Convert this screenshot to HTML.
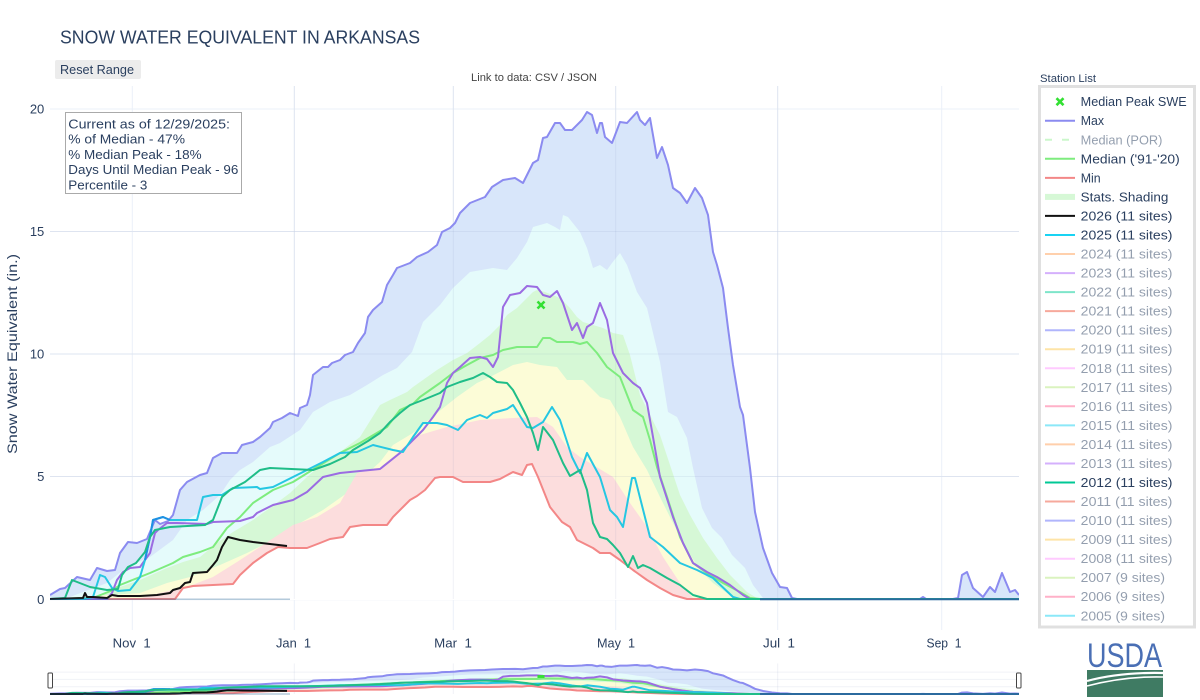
<!DOCTYPE html>
<html><head><meta charset="utf-8">
<style>
html,body{margin:0;padding:0;background:#fff;}
svg{display:block;}
text{font-family:"Liberation Sans",Arial,sans-serif;}
</style></head>
<body>
<svg width="1200" height="700" viewBox="0 0 1200 700" xmlns="http://www.w3.org/2000/svg">
<defs>
<clipPath id="pc"><rect x="50" y="86" width="969" height="544"/></clipPath>
<clipPath id="sc"><rect x="50" y="655" width="969" height="45"/></clipPath>
</defs>
<rect x="0" y="0" width="1200" height="700" fill="#fff"/>

<!-- title & buttons -->
<text x="60" y="43.3" font-size="18.5" fill="#2a3f5f" textLength="360" lengthAdjust="spacingAndGlyphs">SNOW WATER EQUIVALENT IN ARKANSAS</text>
<rect x="55" y="60" width="86" height="19" rx="2" fill="#ececec"/>
<text x="60" y="74" font-size="13" fill="#2a3f5f" textLength="74" lengthAdjust="spacingAndGlyphs">Reset Range</text>
<text x="534" y="81" font-size="11" fill="#444" text-anchor="middle" textLength="126" lengthAdjust="spacingAndGlyphs">Link to data: CSV / JSON</text>

<!-- gridlines under -->
<g stroke="#ebf0f8" stroke-width="1">
<line x1="50" y1="109" x2="1019" y2="109"/>
<line x1="50" y1="231.5" x2="1019" y2="231.5"/>
<line x1="50" y1="354" x2="1019" y2="354"/>
<line x1="50" y1="476.5" x2="1019" y2="476.5"/>
<line x1="132.3" y1="86" x2="132.3" y2="630"/>
<line x1="294.3" y1="86" x2="294.3" y2="630"/>
<line x1="453.3" y1="86" x2="453.3" y2="630"/>
<line x1="615.7" y1="86" x2="615.7" y2="630"/>
<line x1="777.7" y1="86" x2="777.7" y2="630"/>
<line x1="941.7" y1="86" x2="941.7" y2="630"/>
</g>
<line x1="50" y1="599.3" x2="1019" y2="599.3" stroke="#ebf0f8" stroke-width="2"/>

<g clip-path="url(#pc)">
<g id="data">
<!-- fills -->
<polygon fill="#d8e6fa" points="50,595 60,589 65,588 77,577 90,580 97,568 107,571 115,570 120,553 128,542 137,543 147,539 155,520 160,524 168,521 173,515 180,490 187,482 200,475 207,473 213,458 222,453 237,453 242,445 253,442 260,437 270,428 273,422 282,418 290,413 298,416 300,408 307,405 310,395 313,375 323,367 328,367 332,363 340,360 345,355 353,352 358,343 365,333 368,317 373,310 382,302 387,285 393,275 397,268 410,263 417,257 428,252 437,245 442,232 450,228 455,223 460,213 470,203 485,197 492,187 503,180 515,178 523,183 533,163 538,160 543,138 547,137 555,123 560,123 565,130 572,130 582,120 587,112 592,115 597,133 600,123 602,123 605,137 612,143 617,130 620,122 627,123 637,112 640,120 645,125 650,118 657,158 662,147 668,165 673,188 680,193 687,203 695,188 702,198 708,215 713,252 717,265 723,288 728,328 733,365 740,407 743,415 750,468 755,512 763,548 772,573 780,587 787,588 792,598 797,599 920,599 923,597 926,599 953,599 958,598 962,575 967,572 973,588 983,597 990,587 995,592 1002,573 1010,592 1015,590 1019,595 1019,600 50,600"/>
<polygon fill="#e5fbfb" points="50,599 70,597 107,583 127,567 150,557 173,540 187,520 203,510 220,495 230,480 240,470 253,462 270,447 280,443 300,430 313,412 330,402 350,395 367,385 383,375 397,368 412,352 423,322 440,305 453,288 470,272 493,268 507,270 517,258 527,242 533,227 547,223 555,227 560,230 563,215 568,217 580,232 587,248 593,268 600,265 607,270 612,263 620,253 627,265 637,292 647,308 660,362 668,412 677,417 687,438 693,468 702,508 712,528 722,538 732,555 745,568 753,585 763,598 770,600 50,600"/>
<polygon fill="#d6f8d6" points="50,599 90,598 120,587 140,580 167,568 183,562 200,557 217,543 233,532 253,520 270,508 290,493 307,477 323,463 340,452 360,437 380,405 390,400 407,392 413,387 437,370 453,360 467,353 480,343 490,335 500,325 507,315 517,308 533,292 537,290 545,292 560,298 570,308 577,317 583,322 593,325 603,328 613,333 623,335 630,355 640,395 660,435 670,465 680,495 690,515 703,538 717,558 730,575 747,592 760,600 50,600"/>
<polygon fill="#fcfcd7" points="50,599 140,593 167,583 190,577 220,565 247,553 273,540 300,523 323,510 347,493 360,480 380,462 393,445 413,433 437,413 457,397 477,383 490,377 513,365 527,362 540,365 557,367 567,380 583,380 600,397 610,400 620,417 633,447 647,470 660,497 673,523 687,550 700,570 713,583 727,593 737,598 745,600 50,600"/>
<polygon fill="#fcdddd" points="50,599 137,599 160,593 187,587 213,577 237,562 260,547 293,525 317,517 340,503 357,473 380,468 407,445 413,437 447,427 480,420 513,418 537,417 553,427 567,447 580,457 613,477 630,503 647,527 663,557 680,583 693,598 700,600 50,600"/>
<polygon fill="#ffffff" points="50,600 50,599 175,599 183,588 193,586 213,585 233,584 240,575 253,563 267,553 278,547 290,548 307,548 320,543 330,539 343,537 350,527 363,525 387,525 393,517 403,507 410,500 417,496 425,490 435,478 440,477 453,477 463,482 490,482 500,479 513,472 522,475 527,465 532,464 538,477 550,507 562,522 570,527 577,540 583,543 593,548 600,553 610,553 620,560 633,570 647,580 660,588 673,595 687,599 687,600"/>
<!-- grid overlay on fills -->
<g stroke="rgba(110,130,180,0.10)" stroke-width="1">
<line x1="50" y1="231.5" x2="1019" y2="231.5" vector-effect="non-scaling-stroke"/>
<line x1="50" y1="354" x2="1019" y2="354" vector-effect="non-scaling-stroke"/>
<line x1="50" y1="476.5" x2="1019" y2="476.5" vector-effect="non-scaling-stroke"/>
<line x1="294.3" y1="86" x2="294.3" y2="599" vector-effect="non-scaling-stroke"/>
<line x1="453.3" y1="86" x2="453.3" y2="599" vector-effect="non-scaling-stroke"/>
<line x1="615.7" y1="86" x2="615.7" y2="599" vector-effect="non-scaling-stroke"/>
<line x1="777.7" y1="86" x2="777.7" y2="599" vector-effect="non-scaling-stroke"/>
</g>
<!-- lines -->
<g fill="none" stroke-width="2" stroke-linejoin="round">
<polyline vector-effect="non-scaling-stroke" stroke="#8b8bf0" points="50,595 60,589 65,588 77,577 90,580 97,568 107,571 115,570 120,553 128,542 137,543 147,539 155,520 160,524 168,521 173,515 180,490 187,482 200,475 207,473 213,458 222,453 237,453 242,445 253,442 260,437 270,428 273,422 282,418 290,413 298,416 300,408 307,405 310,395 313,375 323,367 328,367 332,363 340,360 345,355 353,352 358,343 365,333 368,317 373,310 382,302 387,285 393,275 397,268 410,263 417,257 428,252 437,245 442,232 450,228 455,223 460,213 470,203 485,197 492,187 503,180 515,178 523,183 533,163 538,160 543,138 547,137 555,123 560,123 565,130 572,130 582,120 587,112 592,115 597,133 600,123 602,123 605,137 612,143 617,130 620,122 627,123 637,112 640,120 645,125 650,118 657,158 662,147 668,165 673,188 680,193 687,203 695,188 702,198 708,215 713,252 717,265 723,288 728,328 733,365 740,407 743,415 750,468 755,512 763,548 772,573 780,587 787,588 792,598 797,599 920,599 923,597 926,599 953,599 958,598 962,575 967,572 973,588 983,597 990,587 995,592 1002,573 1010,592 1015,590 1019,595"/>
<polyline vector-effect="non-scaling-stroke" stroke="#7eec7e" points="50,599 93,598 113,590 120,585 150,573 173,563 183,557 200,552 213,547 227,528 240,517 253,503 273,490 293,482 317,467 340,453 360,443 387,427 400,410 413,404 420,397 440,383 453,373 467,365 480,358 493,355 503,350 517,347 537,347 543,338 550,338 557,342 573,342 580,344 587,342 597,353 607,367 620,377 633,410 643,417 650,440 657,467 667,497 680,537 693,563 707,573 723,583 740,592 750,598 760,599 1019,599"/>
<polyline vector-effect="non-scaling-stroke" stroke="#f38787" points="50,599 175,599 183,588 193,586 213,585 233,584 240,575 253,563 267,553 278,547 290,548 307,548 320,543 330,539 343,537 350,527 363,525 387,525 393,517 403,507 410,500 417,496 425,490 435,478 440,477 453,477 463,482 490,482 500,479 513,472 522,475 527,465 532,464 538,477 550,507 562,522 570,527 577,540 583,543 593,548 600,553 610,553 620,560 633,570 647,580 660,588 673,595 687,599 1019,599"/>
<polyline vector-effect="non-scaling-stroke" stroke="#9b6ce2" points="50,599 107,599 112,593 117,580 123,572 130,568 140,567 150,553 155,533 158,530 167,523 177,523 207,524 213,522 240,521 253,517 257,513 273,505 293,500 307,492 323,477 340,473 360,471 380,469 400,453 413,440 423,430 433,417 440,407 447,383 453,373 460,367 470,358 480,357 487,359 493,367 498,357 503,307 510,295 520,293 527,286 537,287 543,295 550,297 557,291 563,303 572,330 577,323 583,338 587,327 593,323 600,303 607,320 613,353 623,373 633,383 640,388 647,403 653,437 660,477 673,517 683,543 693,563 707,572 717,577 730,585 743,595 750,599 1019,599"/>
<polyline vector-effect="non-scaling-stroke" stroke="#25c7e2" points="50,599 83,599 93,597 100,575 105,577 112,588 118,591 130,590 140,577 145,560 150,537 153,520 163,517 170,520 197,520 203,497 213,495 222,495 233,488 257,487 260,489 273,487 287,480 307,470 323,462 340,453 357,452 373,445 393,450 403,452 413,437 423,423 437,423 447,425 458,430 467,420 480,415 487,418 493,413 507,409 513,405 527,427 533,428 543,422 552,407 560,420 572,457 580,473 587,453 600,477 610,510 617,517 623,527 632,478 635,478 650,537 663,547 680,563 697,570 713,578 733,597 740,599 1019,599"/>
<polyline vector-effect="non-scaling-stroke" stroke="#1f8fe3" points="145,560 150,537 153,520 163,517 170,520"/>
<polyline vector-effect="non-scaling-stroke" stroke="#1fbd88" points="50,599 65,598 72,580 90,587 107,590 118,589 122,575 128,567 136,563 145,552 150,537 155,530 170,527 205,525 213,520 222,497 230,490 245,482 260,470 270,468 313,470 330,464 345,457 353,450 368,441 380,433 390,422 400,413 410,405 423,400 440,393 447,387 460,382 473,378 483,373 490,377 497,382 507,383 513,390 520,403 527,417 533,433 538,450 543,427 553,440 563,463 570,476 580,470 587,490 593,523 600,537 607,539 613,545 620,553 628,567 633,556 638,568 643,565 650,568 667,578 680,585 693,595 707,599 1019,599"/>
<polyline vector-effect="non-scaling-stroke" stroke="#111" points="50,599 83,598 85,593 87,597 93,597 107,598 112,595 118,596 140,596 157,595 170,593 173,590 180,588 185,583 190,582 193,573 207,572 213,565 217,560 222,547 228,537 240,540 253,542 270,544 287,546"/>
<line x1="50" y1="599.3" x2="290" y2="599.3" stroke="#2a6a9a" stroke-width="1.5" vector-effect="non-scaling-stroke" opacity="0.35"/>
<line x1="760" y1="599.3" x2="1019" y2="599.3" stroke="#2b6a9e" stroke-width="2" vector-effect="non-scaling-stroke"/>
</g>
<!-- median peak marker -->
<g stroke="#33e033" stroke-width="2.6">
<line x1="537.5" y1="301.5" x2="544.5" y2="308.5" vector-effect="non-scaling-stroke"/>
<line x1="544.5" y1="301.5" x2="537.5" y2="308.5" vector-effect="non-scaling-stroke"/>
</g>
</g>
</g>

<!-- info box -->
<rect x="65.5" y="112.5" width="176" height="81" fill="#fff" stroke="#aaa" stroke-width="1"/>
<g font-size="12.5" fill="#2a3f5f">
<text x="68.3" y="128.5" textLength="161.7" lengthAdjust="spacingAndGlyphs">Current as of 12/29/2025:</text>
<text x="68.3" y="143.7" textLength="116.7" lengthAdjust="spacingAndGlyphs">% of Median - 47%</text>
<text x="68.3" y="159" textLength="133.3" lengthAdjust="spacingAndGlyphs">% Median Peak - 18%</text>
<text x="68.3" y="174.2" textLength="170" lengthAdjust="spacingAndGlyphs">Days Until Median Peak - 96</text>
<text x="68.3" y="189.5" textLength="79" lengthAdjust="spacingAndGlyphs">Percentile - 3</text>
</g>

<!-- y axis -->
<g font-size="13" fill="#2a3f5f" text-anchor="end">
<text x="44.3" y="113.6">20</text>
<text x="44.3" y="236.1">15</text>
<text x="44.3" y="358.6">10</text>
<text x="44.3" y="481.1">5</text>
<text x="44.3" y="603.9">0</text>
</g>
<text transform="translate(17,354) rotate(-90)" text-anchor="middle" font-size="14" fill="#2a3f5f" textLength="200" lengthAdjust="spacingAndGlyphs">Snow Water Equivalent (in.)</text>

<!-- x axis -->
<g font-size="13" fill="#2a3f5f" text-anchor="middle">
<text x="131.7" y="647.5" textLength="38" lengthAdjust="spacingAndGlyphs">Nov&#160; 1</text>
<text x="293.5" y="647.5" textLength="35" lengthAdjust="spacingAndGlyphs">Jan&#160; 1</text>
<text x="453" y="647.5" textLength="37.7" lengthAdjust="spacingAndGlyphs">Mar&#160; 1</text>
<text x="616" y="647.5" textLength="38" lengthAdjust="spacingAndGlyphs">May&#160; 1</text>
<text x="779" y="647.5" textLength="32" lengthAdjust="spacingAndGlyphs">Jul&#160; 1</text>
<text x="944" y="647.5" textLength="35" lengthAdjust="spacingAndGlyphs">Sep&#160; 1</text>
</g>

<!-- range slider -->
<g clip-path="url(#sc)">
<use href="#data" transform="translate(0,694) scale(1,0.0596) translate(0,-599)"/>
</g>
<rect x="48" y="673" width="4.5" height="15" rx="1" fill="#fff" stroke="#444" stroke-width="1"/>
<rect x="1016.5" y="673" width="4.5" height="15" rx="1" fill="#fff" stroke="#444" stroke-width="1"/>

<!-- legend -->
<text x="1040" y="82" font-size="11" fill="#2a3f5f" textLength="56" lengthAdjust="spacingAndGlyphs">Station List</text>
<rect x="1039.5" y="86.5" width="155" height="540.5" fill="#fff" stroke="#e0e0e0" stroke-width="3"/>
<g stroke="#33e033" stroke-width="2.6">
<line x1="1056.5" y1="98.2" x2="1063.5" y2="105.2"/>
<line x1="1063.5" y1="98.2" x2="1056.5" y2="105.2"/>
</g>
<g stroke-width="2" fill="none">
<line x1="1045" y1="120.7" x2="1075" y2="120.7" stroke="#8b8bf0"/>
<line x1="1045" y1="139.8" x2="1075" y2="139.8" stroke="#7eec7e" stroke-dasharray="7,10" opacity="0.4"/>
<line x1="1045" y1="158.8" x2="1075" y2="158.8" stroke="#7eec7e"/>
<line x1="1045" y1="177.9" x2="1075" y2="177.9" stroke="#f38787"/>
<rect x="1045" y="193.9" width="30" height="6" fill="#d6f8d6" stroke="none"/>
<line x1="1045" y1="215.9" x2="1075" y2="215.9" stroke="#111"/>
<line x1="1045" y1="235" x2="1075" y2="235" stroke="#19d3f3"/>
<g opacity="0.5">
<line x1="1045" y1="254" x2="1075" y2="254" stroke="#FFA15A"/>
<line x1="1045" y1="273.1" x2="1075" y2="273.1" stroke="#AB63FA"/>
<line x1="1045" y1="292.1" x2="1075" y2="292.1" stroke="#00CC96"/>
<line x1="1045" y1="311.1" x2="1075" y2="311.1" stroke="#EF553B"/>
<line x1="1045" y1="330.2" x2="1075" y2="330.2" stroke="#636EFA"/>
<line x1="1045" y1="349.2" x2="1075" y2="349.2" stroke="#FECB52"/>
<line x1="1045" y1="368.3" x2="1075" y2="368.3" stroke="#FF97FF"/>
<line x1="1045" y1="387.3" x2="1075" y2="387.3" stroke="#B6E880"/>
<line x1="1045" y1="406.3" x2="1075" y2="406.3" stroke="#FF6692"/>
<line x1="1045" y1="425.4" x2="1075" y2="425.4" stroke="#19D3F3"/>
<line x1="1045" y1="444.4" x2="1075" y2="444.4" stroke="#FFA15A"/>
<line x1="1045" y1="463.5" x2="1075" y2="463.5" stroke="#AB63FA"/>
<line x1="1045" y1="501.5" x2="1075" y2="501.5" stroke="#EF553B"/>
<line x1="1045" y1="520.6" x2="1075" y2="520.6" stroke="#636EFA"/>
<line x1="1045" y1="539.6" x2="1075" y2="539.6" stroke="#FECB52"/>
<line x1="1045" y1="558.7" x2="1075" y2="558.7" stroke="#FF97FF"/>
<line x1="1045" y1="577.7" x2="1075" y2="577.7" stroke="#B6E880"/>
<line x1="1045" y1="596.7" x2="1075" y2="596.7" stroke="#FF6692"/>
<line x1="1045" y1="615.8" x2="1075" y2="615.8" stroke="#19D3F3"/>
</g>
<line x1="1045" y1="482.5" x2="1075" y2="482.5" stroke="#00c896"/>
</g>
<g font-size="12.5" fill="#2a3f5f">
<text x="1080.7" y="106.2" textLength="106" lengthAdjust="spacingAndGlyphs">Median Peak SWE</text>
<text x="1080.7" y="125.2" textLength="23.3" lengthAdjust="spacingAndGlyphs">Max</text>
<text x="1080.7" y="144.3" textLength="81.7" lengthAdjust="spacingAndGlyphs" opacity="0.5">Median (POR)</text>
<text x="1080.7" y="163.3" textLength="99" lengthAdjust="spacingAndGlyphs">Median ('91-'20)</text>
<text x="1080.7" y="182.4" textLength="20" lengthAdjust="spacingAndGlyphs">Min</text>
<text x="1080.7" y="201.4" textLength="87.7" lengthAdjust="spacingAndGlyphs">Stats. Shading</text>
<text x="1080.7" y="220.4" textLength="91.7" lengthAdjust="spacingAndGlyphs">2026 (11 sites)</text>
<text x="1080.7" y="239.5" textLength="91.7" lengthAdjust="spacingAndGlyphs">2025 (11 sites)</text>
<g opacity="0.5">
<text x="1080.7" y="258.5" textLength="91.7" lengthAdjust="spacingAndGlyphs">2024 (11 sites)</text>
<text x="1080.7" y="277.6" textLength="91.7" lengthAdjust="spacingAndGlyphs">2023 (11 sites)</text>
<text x="1080.7" y="296.6" textLength="91.7" lengthAdjust="spacingAndGlyphs">2022 (11 sites)</text>
<text x="1080.7" y="315.6" textLength="91.7" lengthAdjust="spacingAndGlyphs">2021 (11 sites)</text>
<text x="1080.7" y="334.7" textLength="91.7" lengthAdjust="spacingAndGlyphs">2020 (11 sites)</text>
<text x="1080.7" y="353.7" textLength="91.7" lengthAdjust="spacingAndGlyphs">2019 (11 sites)</text>
<text x="1080.7" y="372.8" textLength="91.7" lengthAdjust="spacingAndGlyphs">2018 (11 sites)</text>
<text x="1080.7" y="391.8" textLength="91.7" lengthAdjust="spacingAndGlyphs">2017 (11 sites)</text>
<text x="1080.7" y="410.8" textLength="91.7" lengthAdjust="spacingAndGlyphs">2016 (11 sites)</text>
<text x="1080.7" y="429.9" textLength="91.7" lengthAdjust="spacingAndGlyphs">2015 (11 sites)</text>
<text x="1080.7" y="448.9" textLength="91.7" lengthAdjust="spacingAndGlyphs">2014 (11 sites)</text>
<text x="1080.7" y="468" textLength="91.7" lengthAdjust="spacingAndGlyphs">2013 (11 sites)</text>
<text x="1080.7" y="506" textLength="91.7" lengthAdjust="spacingAndGlyphs">2011 (11 sites)</text>
<text x="1080.7" y="525.1" textLength="91.7" lengthAdjust="spacingAndGlyphs">2010 (11 sites)</text>
<text x="1080.7" y="544.1" textLength="91.7" lengthAdjust="spacingAndGlyphs">2009 (11 sites)</text>
<text x="1080.7" y="563.2" textLength="91.7" lengthAdjust="spacingAndGlyphs">2008 (11 sites)</text>
<text x="1080.7" y="582.2" textLength="84.3" lengthAdjust="spacingAndGlyphs">2007 (9 sites)</text>
<text x="1080.7" y="601.2" textLength="84.3" lengthAdjust="spacingAndGlyphs">2006 (9 sites)</text>
<text x="1080.7" y="620.3" textLength="84.3" lengthAdjust="spacingAndGlyphs">2005 (9 sites)</text>
</g>
<text x="1080.7" y="487" textLength="91.7" lengthAdjust="spacingAndGlyphs">2012 (11 sites)</text>
</g>

<!-- USDA logo -->
<text x="1087" y="667" font-family="'Liberation Serif',serif" font-size="34" fill="#4a6fb5" textLength="75" lengthAdjust="spacingAndGlyphs">USDA</text>
<rect x="1087" y="670" width="76" height="27" fill="#3f7b63"/>
<path d="M1087,681 Q1120,672 1163,673" stroke="#fff" stroke-width="2.2" fill="none"/>
<path d="M1087,686 Q1125,676 1163,677" stroke="#fff" stroke-width="1.6" fill="none"/>
</svg>
</body></html>
